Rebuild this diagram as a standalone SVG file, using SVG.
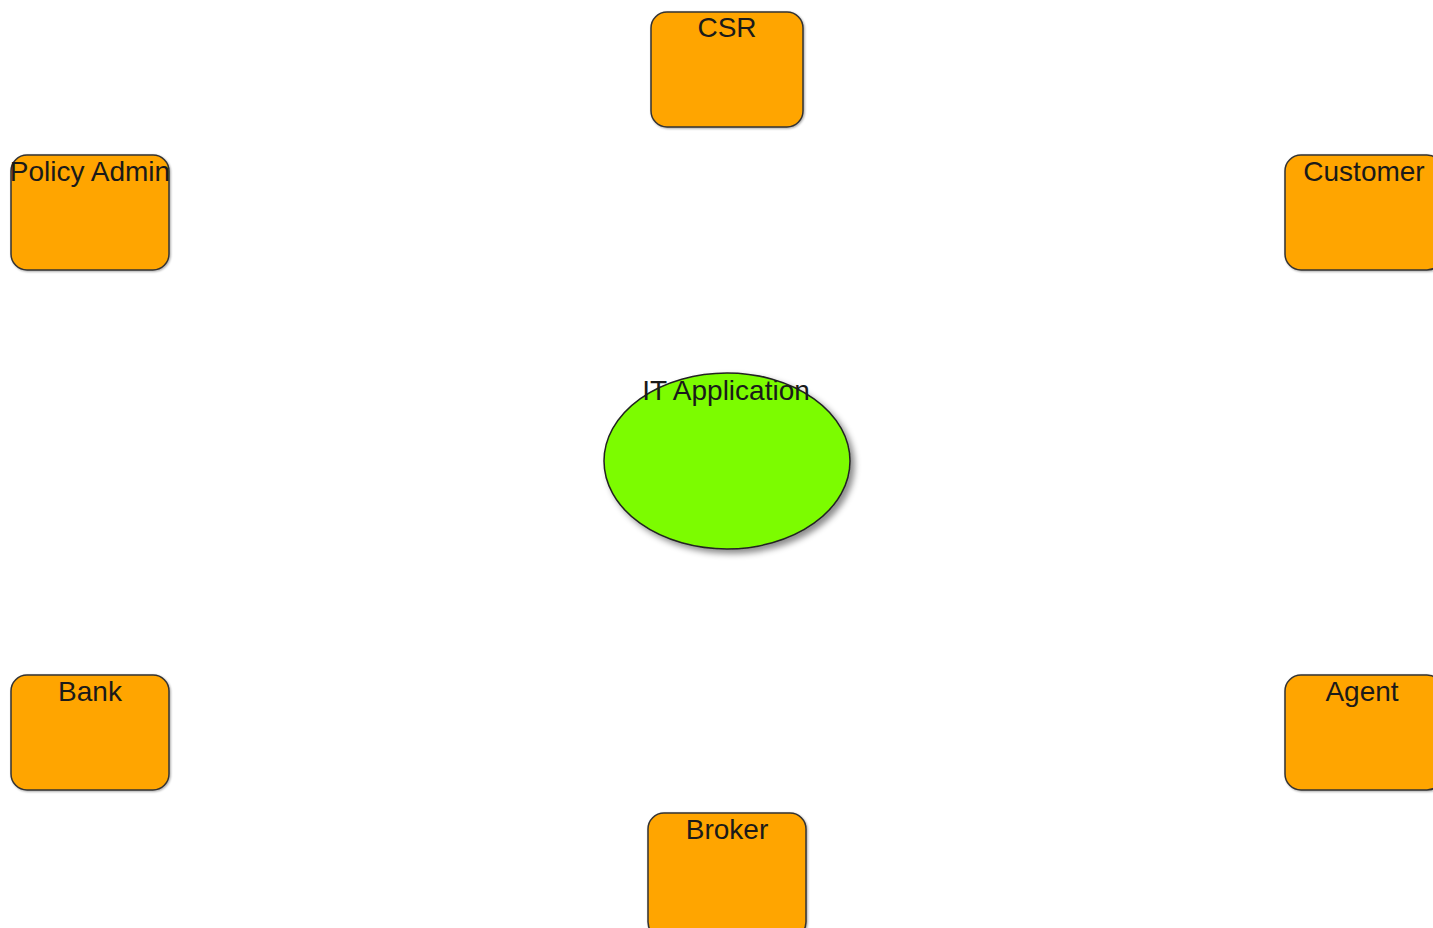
<svg xmlns="http://www.w3.org/2000/svg" width="1433" height="928" viewBox="0 0 1433 928">
<defs>
<style>
.box{fill:#FFA500;stroke:#333;stroke-width:1.5;filter:url(#sh)}
.ell{fill:#7CFC00;stroke:#222;stroke-width:1.5;filter:url(#sh2)}
.lbl{font-family:"Liberation Sans",Arial,sans-serif;font-size:28px;fill:#1a1a1a;text-anchor:middle}
</style>
<filter id="sh" x="-10%" y="-10%" width="130%" height="130%">
<feDropShadow dx="1" dy="1" stdDeviation="1" flood-color="#000" flood-opacity="0.35"/>
</filter>
<filter id="sh2" x="-10%" y="-10%" width="130%" height="130%">
<feDropShadow dx="4" dy="4" stdDeviation="3" flood-color="#000" flood-opacity="0.45"/>
</filter>
</defs>
<rect width="1433" height="928" fill="#fff"/>
<g id="connectors"></g>
<g id="node-csr"><rect class="box" x="651" y="12" width="152" height="115" rx="16"/><text class="lbl" x="727" y="37">CSR</text></g>
<g id="node-policy-admin"><rect class="box" x="11" y="155" width="158" height="115" rx="16"/><text class="lbl" x="90" y="181">Policy Admin</text></g>
<g id="node-customer"><rect class="box" x="1285" y="155" width="158" height="115" rx="16"/><text class="lbl" x="1364" y="181">Customer</text></g>
<g id="node-it-application"><ellipse class="ell" cx="727" cy="461" rx="123" ry="88"/><text class="lbl" x="726" y="400">IT Application</text></g>
<g id="node-bank"><rect class="box" x="11" y="675" width="158" height="115" rx="16"/><text class="lbl" x="90" y="701">Bank</text></g>
<g id="node-agent"><rect class="box" x="1285" y="675" width="158" height="115" rx="16"/><text class="lbl" x="1362" y="701">Agent</text></g>
<g id="node-broker"><rect class="box" x="648" y="813" width="158" height="125" rx="16"/><text class="lbl" x="727" y="839">Broker</text></g>
</svg>
